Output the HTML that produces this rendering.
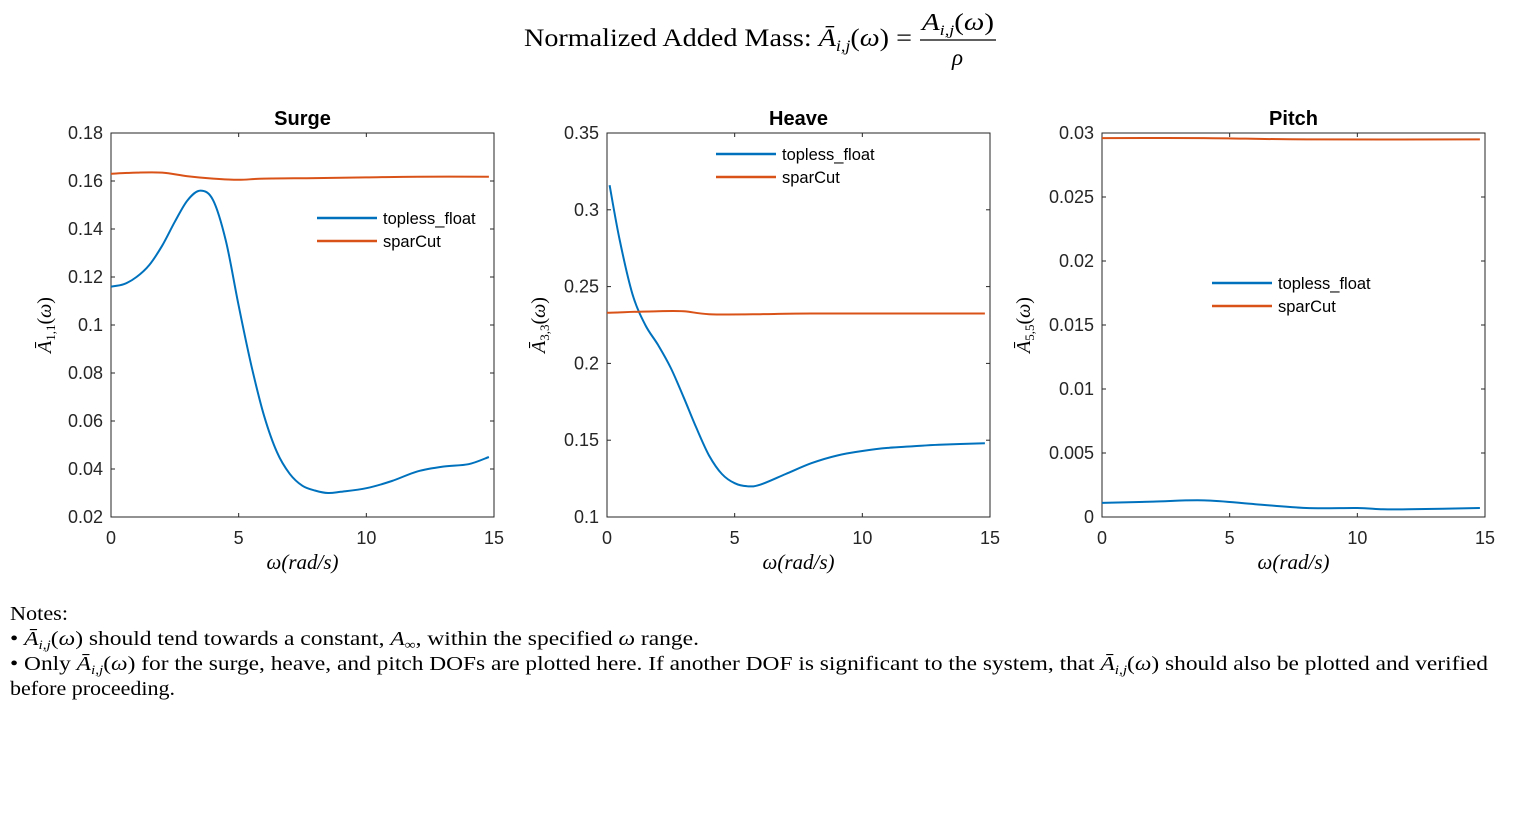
<!DOCTYPE html>
<html><head><meta charset="utf-8"><style>
html,body{margin:0;padding:0;background:#fff;}
svg{display:block;}
.tk{font-family:"Liberation Sans",sans-serif;font-size:18px;fill:#262626;}
.ti{font-family:"Liberation Sans",sans-serif;font-size:20px;font-weight:bold;fill:#000;}
.lg{font-family:"Liberation Sans",sans-serif;font-size:16.5px;fill:#000;}
.sr{font-family:"Liberation Serif",serif;fill:#000;}
</style></head><body>
<svg id="fig" width="1523" height="814">
<g>
<text class="sr" x="524" y="46" font-size="25" textLength="388" lengthAdjust="spacingAndGlyphs">Normalized Added Mass: <tspan font-style="italic">Ā</tspan><tspan font-style="italic" font-size="16" dy="5">i,j</tspan><tspan dy="-5">(<tspan font-style="italic">ω</tspan>) =</tspan></text>
<text class="sr" x="922" y="30" font-size="24" textLength="72" lengthAdjust="spacingAndGlyphs"><tspan font-style="italic">A</tspan><tspan font-style="italic" font-size="15" dy="5">i,j</tspan><tspan dy="-5">(<tspan font-style="italic">ω</tspan>)</tspan></text>
<line x1="920" y1="40" x2="996" y2="40" stroke="#000" stroke-width="1.2"/>
<text class="sr" x="952" y="65" font-size="23" font-style="italic">ρ</text>
</g>
<g id="plots"></g>
<g class="sr" font-size="20">
<text x="10" y="620" textLength="58" lengthAdjust="spacingAndGlyphs">Notes:</text>
<text x="10" y="645" textLength="689" lengthAdjust="spacingAndGlyphs">• <tspan font-style="italic">Ā</tspan><tspan font-style="italic" font-size="13" dy="4">i,j</tspan><tspan dy="-4">(<tspan font-style="italic">ω</tspan>) should tend towards a constant, <tspan font-style="italic">A</tspan><tspan font-size="13" dy="4">∞</tspan><tspan dy="-4">, within the specified </tspan><tspan font-style="italic">ω</tspan> range.</tspan></text>
<text x="10" y="670" textLength="1478" lengthAdjust="spacingAndGlyphs">• Only <tspan font-style="italic">Ā</tspan><tspan font-style="italic" font-size="13" dy="4">i,j</tspan><tspan dy="-4">(<tspan font-style="italic">ω</tspan>) for the surge, heave, and pitch DOFs are plotted here. If another DOF is significant to the system, that <tspan font-style="italic">Ā</tspan></tspan><tspan font-style="italic" font-size="13" dy="4">i,j</tspan><tspan dy="-4">(<tspan font-style="italic">ω</tspan>) should also be plotted and verified</tspan></text>
<text x="10" y="695" textLength="165" lengthAdjust="spacingAndGlyphs">before proceeding.</text>
</g>
</svg>
<script>
const surgeW=[0,0.5,1,1.5,2,2.5,3,3.5,4,4.5,5,5.5,6,6.5,7,7.5,8,8.5,9,10,11,12,13,14,14.8];
const surgeTopless=[0.116,0.117,0.12,0.125,0.133,0.143,0.152,0.156,0.152,0.135,0.108,0.083,0.062,0.047,0.038,0.033,0.031,0.030,0.0305,0.032,0.035,0.039,0.041,0.042,0.045];
const surgeSparW=[0,1,2,3,4,5,6,8,10,12,14.8];
const surgeSpar=[0.163,0.1635,0.1635,0.162,0.161,0.1605,0.161,0.1612,0.1615,0.1618,0.1618];
const heaveW=[0.1,0.5,1,1.5,2,2.5,3,3.5,4,4.5,5,5.5,6,7,8,9,10,11,12,13,14.8];
const heaveTopless=[0.316,0.28,0.245,0.225,0.212,0.197,0.178,0.158,0.14,0.128,0.122,0.12,0.121,0.128,0.135,0.14,0.143,0.145,0.146,0.147,0.148];
const heaveSparW=[0,2,3,4,6,8,14.8];
const heaveSpar=[0.233,0.234,0.234,0.232,0.232,0.2325,0.2325];
const pitchW=[0,2,4,6,8,10,11,12,14.8];
const pitchTopless=[0.0011,0.0012,0.0013,0.001,0.0007,0.0007,0.0006,0.0006,0.0007];
const pitchSparW=[0,4,8,14.8];
const pitchSpar=[0.0296,0.0296,0.0295,0.0295];
const xTicks=[0,5,10,15];
const surgeYTicks=["0.02","0.04","0.06","0.08","0.1","0.12","0.14","0.16","0.18"];
const heaveYTicks=["0.1","0.15","0.2","0.25","0.3","0.35"];
const pitchYTicks=["0","0.005","0.01","0.015","0.02","0.025","0.03"];
const NS="http://www.w3.org/2000/svg";
const root=document.getElementById('plots');
function mk(t,a,p){const e=document.createElementNS(NS,t);for(const k in a)e.setAttribute(k,a[k]);p.appendChild(e);return e;}
function spline(pts){
 let d='M'+pts[0][0].toFixed(1)+','+pts[0][1].toFixed(1);
 for(let i=0;i<pts.length-1;i++){
  const p0=pts[Math.max(0,i-1)],p1=pts[i],p2=pts[i+1],p3=pts[Math.min(pts.length-1,i+2)];
  const c1=[p1[0]+(p2[0]-p0[0])/6,p1[1]+(p2[1]-p0[1])/6],c2=[p2[0]-(p3[0]-p1[0])/6,p2[1]-(p3[1]-p1[1])/6];
  d+='C'+c1.map(v=>v.toFixed(1))+' '+c2.map(v=>v.toFixed(1))+' '+p2.map(v=>v.toFixed(1));
 }
 return d;
}
const panels=[
 {name:'surge',title:'Surge',x0:111,ymin:0.02,ymax:0.18,yt:surgeYTicks,sub:'1,1',yo:60,
  series:[[surgeW,surgeTopless,'#0072BD'],[surgeSparW,surgeSpar,'#D95319']],lx:317,ly:218},
 {name:'heave',title:'Heave',x0:607,ymin:0.1,ymax:0.35,yt:heaveYTicks,sub:'3,3',yo:62,
  series:[[heaveW,heaveTopless,'#0072BD'],[heaveSparW,heaveSpar,'#D95319']],lx:716,ly:154},
 {name:'pitch',title:'Pitch',x0:1102,ymin:0,ymax:0.03,yt:pitchYTicks,sub:'5,5',yo:72,
  series:[[pitchW,pitchTopless,'#0072BD'],[pitchSparW,pitchSpar,'#D95319']],lx:1212,ly:283}
];
const T=133,B=517,Wd=383;
panels.forEach(p=>{
 const g=mk('g',{},root);
 
 
 const xs=v=>p.x0+v/15*Wd, ys=v=>B-(v-p.ymin)/(p.ymax-p.ymin)*(B-T);
 const ax=mk('rect',{x:p.x0,y:T,width:Wd,height:B-T,fill:'#fff',stroke:'#262626','stroke-width':1},g);
 
 
 xTicks.forEach(v=>{const x=xs(v);
  mk('line',{x1:x,y1:B,x2:x,y2:B-4,stroke:'#262626'},g);mk('line',{x1:x,y1:T,x2:x,y2:T+4,stroke:'#262626'},g);
  const t=mk('text',{x:x,y:B+27,'text-anchor':'middle',class:'tk'},g);t.textContent=v;
  
  });
 p.yt.forEach(s=>{const y=ys(parseFloat(s));
  mk('line',{x1:p.x0,y1:y,x2:p.x0+4,y2:y,stroke:'#262626'},g);mk('line',{x1:p.x0+Wd,y1:y,x2:p.x0+Wd-4,y2:y,stroke:'#262626'},g);
  const t=mk('text',{x:p.x0-8,y:y+6,'text-anchor':'end',class:'tk'},g);t.textContent=s;
  
  });
 p.series.forEach((s,i)=>{
  const pts=s[0].map((w,k)=>[xs(w),ys(s[1][k])]);
  const l=mk('path',{d:spline(pts),fill:'none',stroke:s[2],'stroke-width':2,'stroke-linejoin':'round'},g);
  
  
 });
 const lg=mk('g',{},g);
 
 
 ['topless_float','sparCut'].forEach((n,i)=>{const y=p.ly+i*23;
  mk('line',{x1:p.lx,y1:y,x2:p.lx+60,y2:y,stroke:i?'#D95319':'#0072BD','stroke-width':2.5},lg);
  const t=mk('text',{x:p.lx+66,y:y+6,class:'lg'},lg);t.textContent=n;
  
  });
 const tt=mk('text',{x:p.x0+Wd/2,y:125,'text-anchor':'middle',class:'ti'},g);tt.textContent=p.title;
 
 
 const xl=mk('text',{x:p.x0+Wd/2,y:569,'text-anchor':'middle',class:'sr','font-size':'21','font-style':'italic'},g);
 xl.textContent='ω(rad/s)';
 
 
 const yl=mk('text',{transform:`translate(${p.x0-p.yo},${(T+B)/2}) rotate(-90)`,'text-anchor':'middle',class:'sr','font-size':'20'},g);
 yl.innerHTML=`<tspan font-style="italic">Ā</tspan><tspan font-size="13" dy="4">${p.sub}</tspan><tspan dy="-4">(<tspan font-style="italic">ω</tspan>)</tspan>`;
 
 
});
</script>
</body></html>
